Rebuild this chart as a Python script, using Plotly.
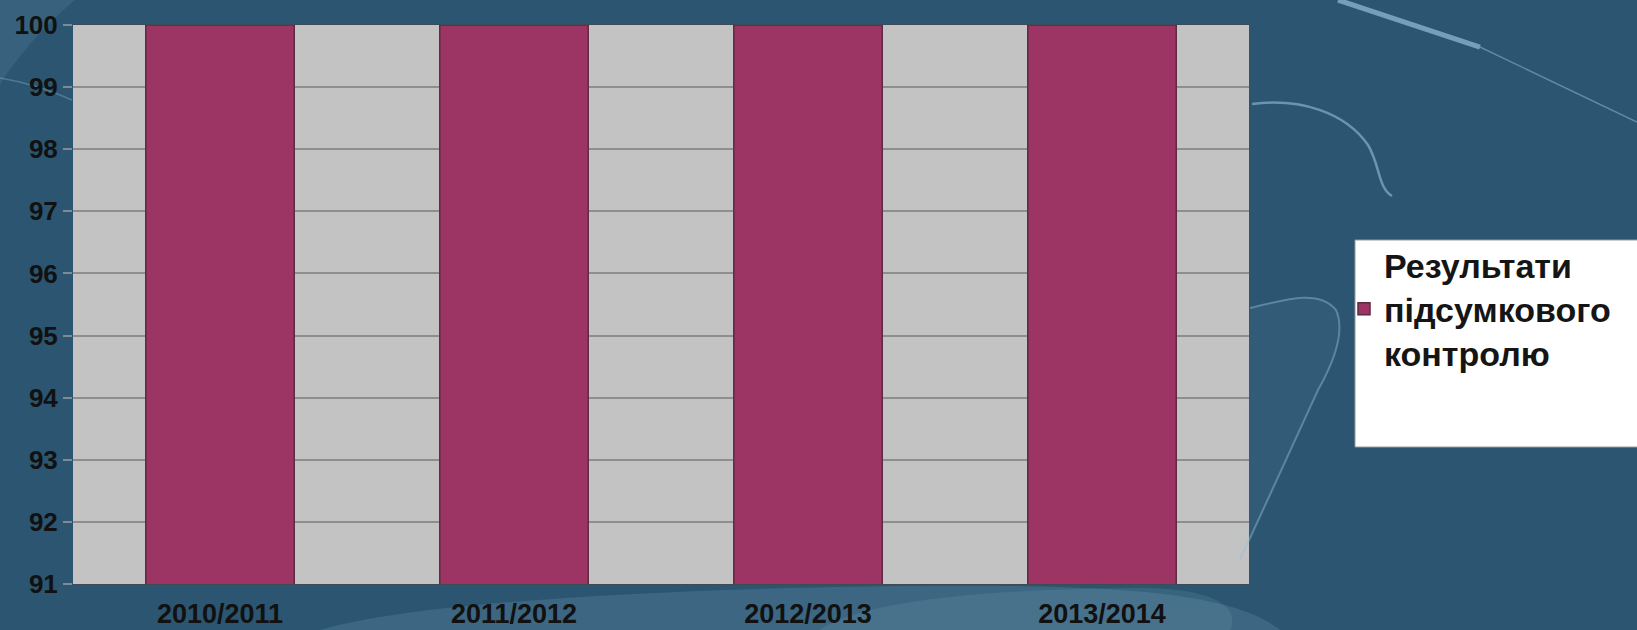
import plotly.graph_objects as go

# Chart data
years = ["2010/2011", "2011/2012", "2012/2013", "2013/2014"]
results = [100, 100, 100, 100]
series_name = "Результати<br>підсумкового<br>контролю"
y_ticks = [91, 92, 93, 94, 95, 96, 97, 98, 99, 100]

BG = "#2B5570"
BAR = "#9C3464"

fig = go.Figure()
fig.add_trace(go.Bar(
    x=years,
    y=results,
    name=series_name,
    marker=dict(color=BAR, line=dict(color="#5E2A42", width=1.5)),
    width=0.505,
    showlegend=True,
))

# page geometry used to place the decorative strokes in paper coordinates
W, H = 1637, 630
L, R, T, B = 73, 388, 25, 46
pw, ph = W - L - R, H - T - B


def px(x, y):
    return (x - L) / pw, (H - B - y) / ph


def svg(cmds):
    """cmds: list of (letter, [(x, y), ...]) in page pixels -> paper path."""
    out = []
    for letter, pts in cmds:
        coords = " ".join("{:.4f},{:.4f}".format(*px(x, y)) for x, y in pts)
        out.append(f"{letter}{coords}")
    return " ".join(out)


LIGHT = "rgba(150,190,215,{a})"
shapes = []
# soft lighter area along the bottom
shapes.append(dict(type="path", xref="paper", yref="paper", layer="below",
                   path=svg([("M", [(320, 630)]),
                             ("C", [(420, 600), (700, 588), (900, 586)]),
                             ("C", [(1100, 584), (1230, 590), (1280, 630)]),
                             ("Z", [])]),
                   fillcolor=LIGHT.format(a=0.16), line=dict(width=0)))
shapes.append(dict(type="path", xref="paper", yref="paper", layer="below",
                   path=svg([("M", [(820, 630)]),
                             ("C", [(860, 600), (1000, 588), (1150, 588)]),
                             ("C", [(1220, 590), (1240, 610), (1230, 630)]),
                             ("Z", [])]),
                   fillcolor=LIGHT.format(a=0.14), line=dict(width=0)))
# top-left soft wedge
shapes.append(dict(type="path", xref="paper", yref="paper", layer="below",
                   path=svg([("M", [(0, 0)]), ("L", [(75, 0)]),
                             ("C", [(40, 30), (15, 60), (0, 85)]), ("Z", [])]),
                   fillcolor=LIGHT.format(a=0.12), line=dict(width=0)))
shapes.append(dict(type="path", xref="paper", yref="paper", layer="below",
                   path=svg([("M", [(0, 78)]), ("C", [(25, 82), (50, 90), (72, 100)])]),
                   line=dict(color=LIGHT.format(a=0.35), width=1.5)))
# diagonal light stroke, top right
shapes.append(dict(type="path", xref="paper", yref="paper", layer="below",
                   path=svg([("M", [(1338, 0)]), ("L", [(1480, 47)])]),
                   line=dict(color=LIGHT.format(a=0.7), width=5)))
shapes.append(dict(type="path", xref="paper", yref="paper", layer="below",
                   path=svg([("M", [(1480, 47)]), ("L", [(1637, 122)])]),
                   line=dict(color=LIGHT.format(a=0.5), width=1.5)))
# puzzle hook
shapes.append(dict(type="path", xref="paper", yref="paper", layer="below",
                   path=svg([("M", [(1252, 104)]),
                             ("C", [(1300, 98), (1345, 112), (1368, 145)]),
                             ("C", [(1380, 165), (1378, 188), (1392, 196)])]),
                   line=dict(color=LIGHT.format(a=0.6), width=2.5)))
# rounded edge left of the legend
edge = [("M", [(1250, 308)]),
        ("C", [(1290, 298), (1320, 290), (1336, 310)]),
        ("C", [(1345, 330), (1335, 360), (1318, 390)]),
        ("L", [(1240, 560)])]
shapes.append(dict(type="path", xref="paper", yref="paper", layer="below",
                   path=svg(edge), line=dict(color=LIGHT.format(a=0.45), width=2)))
shapes.append(dict(type="path", xref="paper", yref="paper", layer="below",
                   path=svg(edge + [("Z", [])]),
                   fillcolor=LIGHT.format(a=0.06), line=dict(width=0)))
# legend panel
shapes.append(dict(type="rect", xref="paper", yref="paper", layer="above",
                   x0=px(1355, 0)[0], x1=px(1645, 0)[0],
                   y0=px(0, 447)[1], y1=px(0, 240)[1],
                   fillcolor="white", line=dict(color="#9A9A9A", width=1)))

fig.update_layout(
    width=W, height=H,
    margin=dict(l=L, r=R, t=T, b=B, autoexpand=False),
    paper_bgcolor=BG,
    plot_bgcolor="#C3C3C3",
    font=dict(family="Liberation Sans, Arial, sans-serif", color="#111111"),
    bargap=0.49,
    shapes=shapes,
    showlegend=True,
    legend=dict(
        x=px(1344, 0)[0], xanchor="left",
        y=px(0, 236)[1], yanchor="top",
        bgcolor="rgba(0,0,0,0)",
        borderwidth=0,
        font=dict(size=34, color="#151515", weight="bold"),
        valign="middle",
    ),
    xaxis=dict(
        type="category",
        automargin=False,
        tickfont=dict(size=27, color="#111111", weight="bold"),
        showgrid=False,
        showline=True, mirror=True, linecolor="#3E4A55", linewidth=1,
        ticks="outside", ticklen=6, tickcolor="rgba(0,0,0,0)",
        zeroline=False,
    ),
    yaxis=dict(
        range=[91, 100],
        automargin=False,
        tickvals=y_ticks,
        tickfont=dict(size=26, color="#111111", weight="bold"),
        showgrid=True, gridcolor="#8E8E8E", gridwidth=1.5,
        ticks="outside", ticklen=9, tickcolor="#7E8A94", tickwidth=1.5,
        zeroline=False,
        showline=False,
    ),
)

fig.write_html("out.html")
